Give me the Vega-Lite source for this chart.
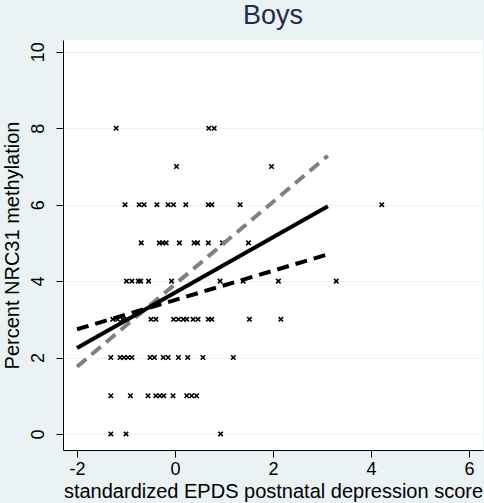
{
  "$schema": "https://vega.github.io/schema/vega-lite/v6.json",
  "autosize": "none",
  "width": 420,
  "height": 410,
  "padding": {"left": 63, "top": 40, "right": 1, "bottom": 53},
  "background": "#EAF2F3",
  "view": {"fill": "white", "stroke": null},
  "config": {
    "font": "Liberation Sans",
    "axis": {
      "labelFont": "Liberation Sans",
      "titleFont": "Liberation Sans",
      "labelFontSize": 18,
      "titleFontSize": 20,
      "titleFontWeight": "normal",
      "labelColor": "black",
      "titleColor": "black",
      "domainColor": "black",
      "tickColor": "black",
      "tickSize": 7,
      "domainWidth": 1
    }
  },
  "title": {
    "text": "Boys",
    "font": "Liberation Sans",
    "fontSize": 27,
    "fontWeight": "normal",
    "color": "#1c2d52",
    "anchor": "middle",
    "offset": 10
  },
  "datasets": {
    "obs": [
      {"x": -1.20, "y": 8}, {"x": 0.69, "y": 8}, {"x": 0.80, "y": 8},
      {"x": 0.03, "y": 7}, {"x": 1.97, "y": 7},
      {"x": -1.02, "y": 6}, {"x": -0.73, "y": 6}, {"x": -0.63, "y": 6}, {"x": -0.37, "y": 6}, {"x": -0.14, "y": 6}, {"x": -0.03, "y": 6}, {"x": 0.22, "y": 6}, {"x": 0.68, "y": 6}, {"x": 0.75, "y": 6}, {"x": 1.33, "y": 6}, {"x": 4.22, "y": 6},
      {"x": -0.69, "y": 5}, {"x": -0.32, "y": 5}, {"x": -0.25, "y": 5}, {"x": -0.18, "y": 5}, {"x": 0.09, "y": 5}, {"x": 0.39, "y": 5}, {"x": 0.46, "y": 5}, {"x": 0.68, "y": 5}, {"x": 0.97, "y": 5}, {"x": 1.50, "y": 5},
      {"x": -0.99, "y": 4}, {"x": -0.88, "y": 4}, {"x": -0.75, "y": 4}, {"x": -0.70, "y": 4}, {"x": -0.54, "y": 4}, {"x": -0.07, "y": 4}, {"x": 0.92, "y": 4}, {"x": 1.39, "y": 4}, {"x": 2.11, "y": 4}, {"x": 3.29, "y": 4},
      {"x": -1.27, "y": 3}, {"x": -1.17, "y": 3}, {"x": -1.07, "y": 3}, {"x": -0.98, "y": 3}, {"x": -0.49, "y": 3}, {"x": -0.39, "y": 3}, {"x": -0.03, "y": 3}, {"x": 0.07, "y": 3}, {"x": 0.17, "y": 3}, {"x": 0.24, "y": 3}, {"x": 0.37, "y": 3}, {"x": 0.47, "y": 3}, {"x": 0.68, "y": 3}, {"x": 0.75, "y": 3}, {"x": 1.52, "y": 3}, {"x": 2.16, "y": 3},
      {"x": -1.31, "y": 2}, {"x": -1.12, "y": 2}, {"x": -1.04, "y": 2}, {"x": -0.96, "y": 2}, {"x": -0.88, "y": 2}, {"x": -0.51, "y": 2}, {"x": -0.42, "y": 2}, {"x": -0.24, "y": 2}, {"x": -0.14, "y": 2}, {"x": 0.07, "y": 2}, {"x": 0.26, "y": 2}, {"x": 0.57, "y": 2}, {"x": 1.19, "y": 2},
      {"x": -1.31, "y": 1}, {"x": -0.91, "y": 1}, {"x": -0.55, "y": 1}, {"x": -0.39, "y": 1}, {"x": -0.31, "y": 1}, {"x": -0.23, "y": 1}, {"x": -0.04, "y": 1}, {"x": 0.24, "y": 1}, {"x": 0.34, "y": 1}, {"x": 0.44, "y": 1},
      {"x": -1.31, "y": 0}, {"x": -1.00, "y": 0}, {"x": 0.93, "y": 0}
    ],
    "fits": [
      {"series": "gray", "x": -2.0, "y": 1.76}, {"series": "gray", "x": 3.12, "y": 7.28},
      {"series": "solid", "x": -2.0, "y": 2.25}, {"series": "solid", "x": 3.12, "y": 5.96},
      {"series": "dash", "x": -2.0, "y": 2.74}, {"series": "dash", "x": 3.12, "y": 4.70}
    ]
  },
  "encoding": {
    "x": {
      "field": "x", "type": "quantitative",
      "scale": {"domain": [-2.286, 6.286], "nice": false, "zero": false},
      "axis": {"values": [-2, 0, 2, 4, 6], "grid": false, "labelPadding": 3, "titlePadding": 3, "labelFlush": false,
               "labelExpr": "replace(datum.label, '\u2212', '-')",
               "title": "standardized EPDS postnatal depression score"}
    },
    "y": {
      "field": "y", "type": "quantitative",
      "scale": {"domain": [-0.42, 10.31], "nice": false, "zero": false},
      "axis": {"values": [0, 2, 4, 6, 8, 10], "grid": true, "gridColor": "#EAF2F3", "gridWidth": 1.2,
               "labelAngle": 270, "labelAlign": "center", "labelBaseline": "bottom", "labelPadding": 9, "labelFlush": false,
               "titlePadding": 7, "title": "Percent NRC31 methylation"}
    }
  },
  "layer": [
    {
      "data": {"name": "obs"},
      "mark": {"type": "point", "shape": "M-1,-1L1,1M-1,1L1,-1", "filled": false, "stroke": "black", "strokeWidth": 1.6, "size": 20, "opacity": 1}
    },
    {
      "data": {"name": "fits"},
      "transform": [{"filter": "datum.series === 'gray'"}],
      "mark": {"type": "line", "color": "#808080", "strokeWidth": 4, "strokeDash": [12, 7]}
    },
    {
      "data": {"name": "fits"},
      "transform": [{"filter": "datum.series === 'solid'"}],
      "mark": {"type": "line", "color": "black", "strokeWidth": 4}
    },
    {
      "data": {"name": "fits"},
      "transform": [{"filter": "datum.series === 'dash'"}],
      "mark": {"type": "line", "color": "black", "strokeWidth": 4, "strokeDash": [12, 7]}
    }
  ]
}
